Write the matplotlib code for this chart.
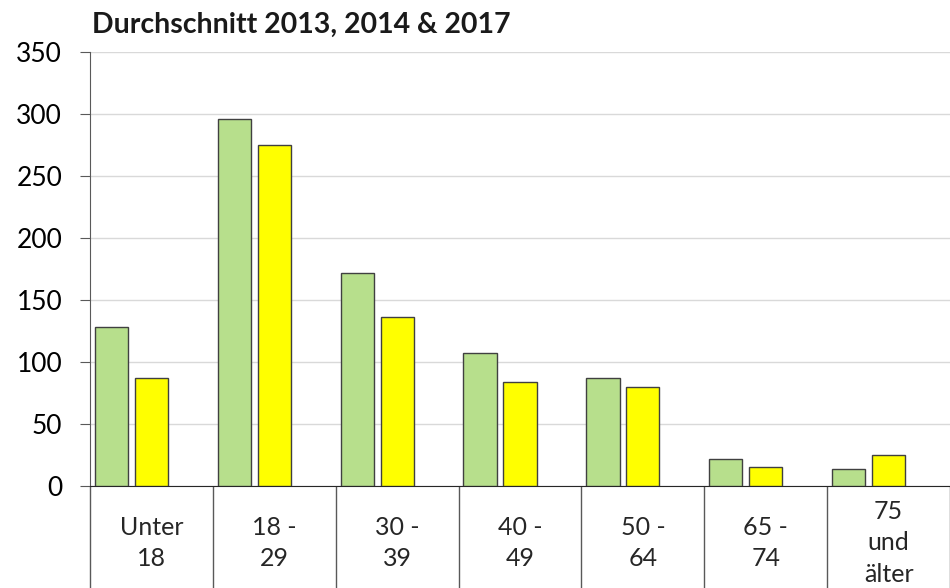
import numpy as np
import matplotlib.pyplot as plt

plt.rcParams['font.family'] = ['Lato', 'DejaVu Sans']

# Daten
kategorien = ['Unter\n18', '18 -\n29', '30 -\n39', '40 -\n49', '50 -\n64', '65 -\n74', '75\nund\nälter']
werte_gruen = [128, 296, 172, 107, 87, 22, 14]
werte_gelb = [87, 275, 136, 84, 80, 15, 25]
y_ticks = [0, 50, 100, 150, 200, 250, 300, 350]

fig = plt.figure()
fig.set_size_inches(9.5, 5.88)
ax = fig.add_axes([0.0947, 0.1735, 0.9053, 0.7381])

x = np.arange(len(kategorien))
breite = 0.27
ax.bar(x - 0.325, werte_gruen, breite, color='#b7df8c', edgecolor='#404040', linewidth=1, zorder=3)
ax.bar(x, werte_gelb, breite, color='#ffff00', edgecolor='#404040', linewidth=1, zorder=3)

ax.set_xlim(-0.5, len(kategorien) - 0.5)
ax.set_ylim(0, 350)
ax.set_yticks(y_ticks)
ax.tick_params(axis='y', labelsize=19, length=7, color='#595959', pad=13, labelcolor='#000000')
ax.grid(axis='y', color='#d9d9d9', linewidth=1, zorder=0)

# Kategorie-Beschriftung mit Trennlinien
ax.set_xticks(x)
ax.set_xticklabels(kategorien, fontsize=18, linespacing=1.45, color='#262626')
ax.tick_params(axis='x', which='major', length=0, pad=41)
for lab in ax.get_xticklabels():
    lab.set_va('center')
ax.set_xticks(np.arange(len(kategorien) + 1) - 0.5, minor=True)
ax.tick_params(axis='x', which='minor', length=80, color='#595959', width=1)

ax.spines['right'].set_color('none')
ax.spines['top'].set_color('none')
ax.spines['left'].set_color('#595959')
ax.spines['bottom'].set_color('#262626')

fig.text(0.097, 0.957, 'Durchschnitt 2013, 2014 & 2017', fontsize=20.5, fontweight='bold',
         color='#1a1a1a', va='center', ha='left')

plt.savefig('out.png', dpi=100)
